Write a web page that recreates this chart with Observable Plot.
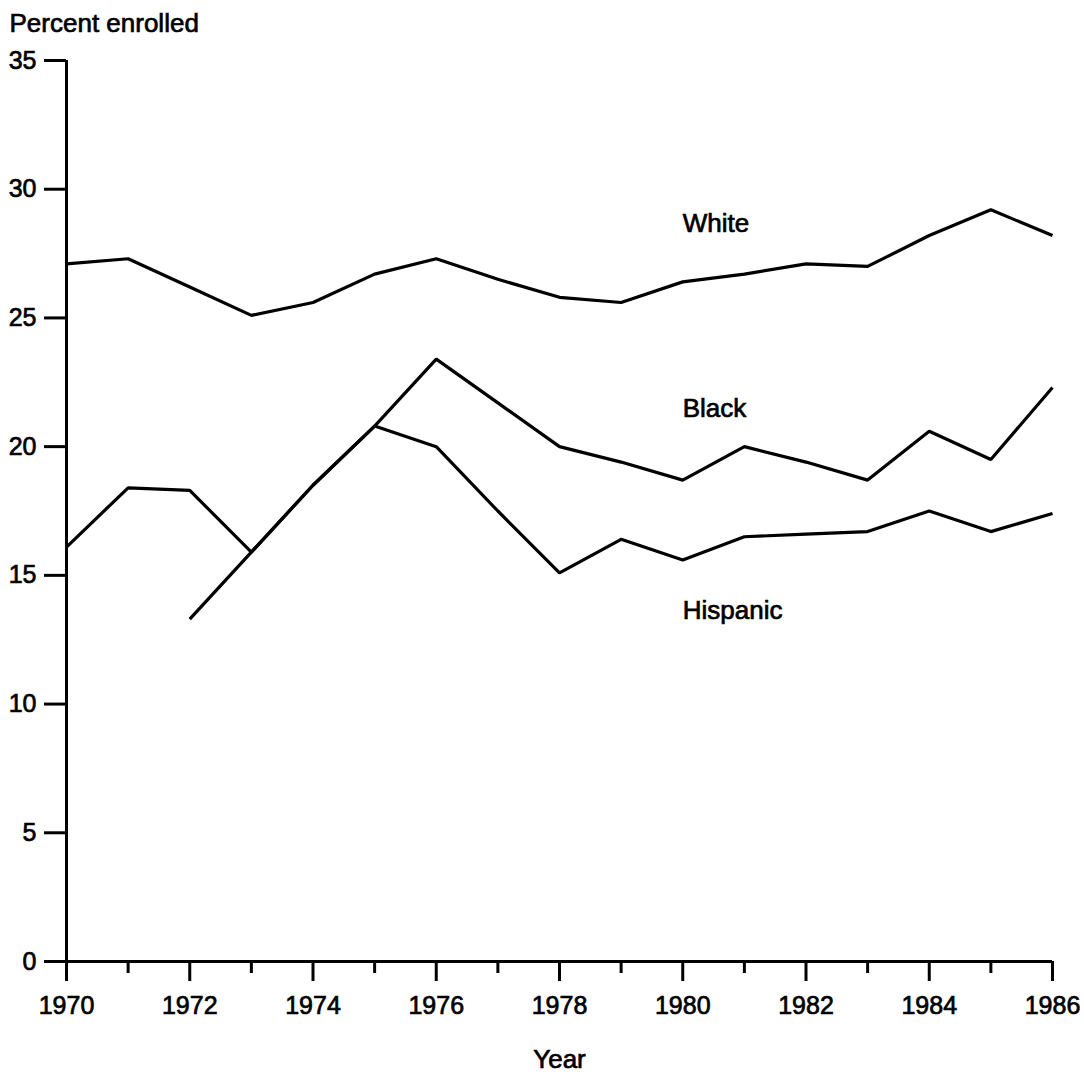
<!DOCTYPE html>
<html>
<head>
<meta charset="utf-8">
<script src="https://cdn.jsdelivr.net/npm/d3@7"></script>
<script src="https://cdn.jsdelivr.net/npm/@observablehq/plot@0.6"></script>
<style>
  html, body { margin: 0; padding: 0; background: #fff; }
  #chart svg text { stroke: #000; stroke-width: 0.7px; }
  #chart svg g[aria-label="x-axis tick"] path,
  #chart svg g[aria-label="y-axis tick"] path { stroke-width: 3px; }
</style>
</head>
<body>
<div id="chart"></div>
<script>
// ---- Data ----
const years = [1970, 1971, 1972, 1973, 1974, 1975, 1976, 1977, 1978, 1979, 1980, 1981, 1982, 1983, 1984, 1985, 1986];
const white    = [27.1, 27.3, 26.2, 25.1, 25.6, 26.7, 27.3, 26.5, 25.8, 25.6, 26.4, 26.7, 27.1, 27.0, 28.2, 29.2, 28.2];
const black    = [16.1, 18.4, 18.3, 15.9, 18.5, 20.8, 23.4, 21.7, 20.0, 19.4, 18.7, 20.0, 19.4, 18.7, 20.6, 19.5, 22.3];
const hispanic = [null, null, 13.3, 15.9, 18.5, 20.8, 20.0, 17.5, 15.1, 16.4, 15.6, 16.5, 16.6, 16.7, 17.5, 16.7, 17.4];

const seriesNames = ["White", "Black", "Hispanic"];
const labelYears  = [1980, 1980, 1980];
const labelValues = [28.67, 21.48, 13.64];

const yTicks = [0, 5, 10, 15, 20, 25, 30, 35];
const majorYears = [1970, 1972, 1974, 1976, 1978, 1980, 1982, 1984, 1986];
const minorYears = [1971, 1973, 1975, 1977, 1979, 1981, 1983, 1985];

const yTitle = "Percent enrolled";
const xTitle = "Year";

// ---- Build table for the library ----
const seriesValues = [white, black, hispanic];
const rows = [];
seriesNames.forEach((name, s) => {
  years.forEach((yr, i) => {
    const v = seriesValues[s][i];
    if (v != null) rows.push({ year: yr, value: v, group: name });
  });
});
const labels = seriesNames.map((n, i) => ({ name: n, year: labelYears[i], value: labelValues[i] }));

const chart = Plot.plot({
  width: 1084,
  height: 1082,
  marginLeft: 66,
  marginRight: 32,
  marginTop: 60,
  marginBottom: 121,
  x: { domain: [1970, 1986] },
  y: { domain: [0, 35] },
  style: {
    fontFamily: "'Liberation Sans', Arial, Helvetica, sans-serif",
    fontSize: "25px",
    color: "#000",
    background: "#fff"
  },
  marks: [
    Plot.axisY(yTicks, { tickSize: 22, tickPadding: 8, strokeWidth: 3, fontSize: 25, label: null, tickFormat: d => String(d) }),
    Plot.axisX(majorYears, { tickSize: 20, tickPadding: 15, strokeWidth: 3, fontSize: 25, label: null, tickFormat: d => String(d) }),
    Plot.axisX(minorYears, { tickSize: 12, strokeWidth: 3, label: null, tickFormat: () => "" }),
    Plot.ruleY([0], { strokeWidth: 3 }),
    Plot.ruleX([1970], { strokeWidth: 3 }),
    Plot.line(rows, { x: "year", y: "value", z: "group", stroke: "#000", strokeWidth: 3.2, strokeLinejoin: "miter", strokeLinecap: "butt" }),
    Plot.text(labels, { x: "year", y: "value", text: "name", textAnchor: "start", fontSize: 26, fill: "#000" }),
    Plot.text([yTitle], { frameAnchor: "top-left", dx: -57, dy: -47, textAnchor: "start", lineAnchor: "top", fontSize: 26, fill: "#000" }),
    Plot.text([xTitle], { frameAnchor: "bottom", dy: 106, fontSize: 26, fill: "#000" })
  ]
});
document.getElementById("chart").appendChild(chart);
</script>
</body>
</html>
